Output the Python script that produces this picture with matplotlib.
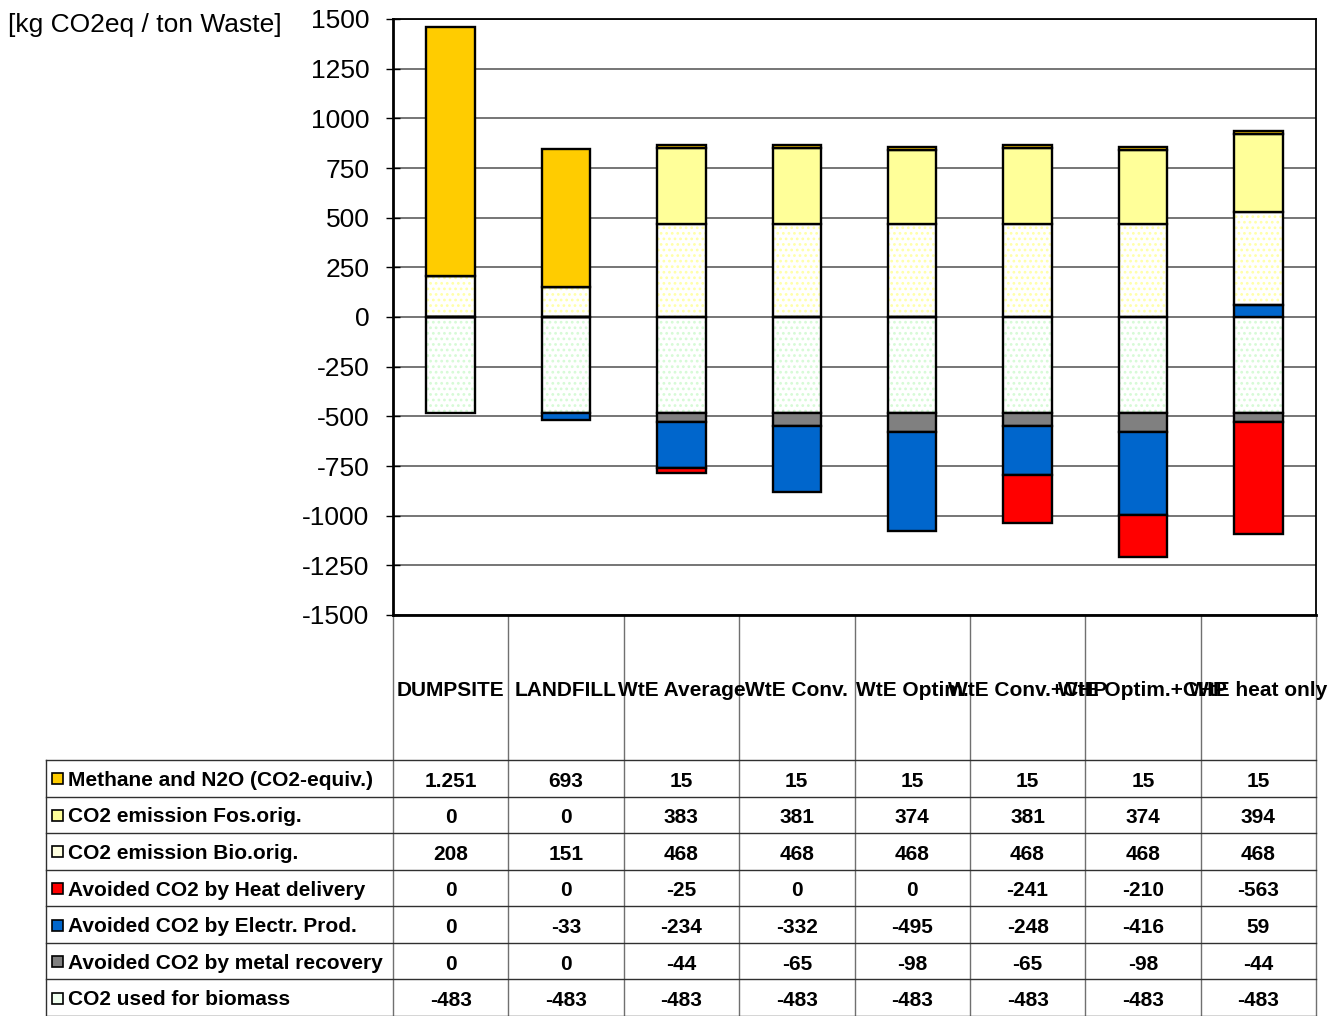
import numpy as np
import matplotlib.pyplot as plt
from matplotlib.patches import Rectangle
from matplotlib.transforms import blended_transform_factory

plt.rcParams['font.family'] = ['Liberation Sans', 'DejaVu Sans']
plt.rcParams['axes.unicode_minus'] = False
plt.rcParams['hatch.linewidth'] = 1.2

categories = ["DUMPSITE", "LANDFILL", "WtE Average", "WtE Conv.", "WtE Optim.",
              "WtE Conv.+CHP", "WtE Optim.+CHP", "WtE heat only"]

methane = [1251, 693, 15, 15, 15, 15, 15, 15]
co2_fossil = [0, 0, 383, 381, 374, 381, 374, 394]
co2_bio = [208, 151, 468, 468, 468, 468, 468, 468]
heat = [0, 0, -25, 0, 0, -241, -210, -563]
electricity = [0, -33, -234, -332, -495, -248, -416, 59]
metal = [0, 0, -44, -65, -98, -65, -98, -44]
biomass_uptake = [-483, -483, -483, -483, -483, -483, -483, -483]

row_labels = ["Methane and N2O (CO2-equiv.)", "CO2 emission Fos.orig.",
              "CO2 emission Bio.orig.", "Avoided CO2 by Heat delivery",
              "Avoided CO2 by Electr. Prod.", "Avoided CO2 by metal recovery",
              "CO2 used for biomass"]
row_values = [methane, co2_fossil, co2_bio, heat, electricity, metal, biomass_uptake]
# face colour, dot colour (None = solid fill), legend swatch colour
row_styles = [("#FFCC00", None, "#FFCC00"),
              ("#FFFF99", None, "#FFFF99"),
              ("white", "#FFFFA8", "#FFFFE0"),
              ("#FF0000", None, "#FF0000"),
              ("#0066CC", None, "#0066CC"),
              ("#808080", None, "#808080"),
              ("white", "#D6FAD6", "#F0FFF0")]

# series are stacked from zero outward in this order
stack_order = [6, 5, 4, 3, 2, 1, 0]

W, H = 1335, 1016
fig = plt.figure(figsize=(W / 100, H / 100), dpi=100)

tax = fig.add_axes([0, 0, 1, 1], zorder=0)
tax.set_xlim(0, W)
tax.set_ylim(H, 0)
tax.axis("off")

left, right, top, bottom = 393, 1316, 19, 615
ax = fig.add_axes([left / W, 1 - bottom / H, (right - left) / W, (bottom - top) / H], zorder=1)

x = np.arange(len(categories))
width = 0.42
pos = np.zeros(len(categories))
neg = np.zeros(len(categories))
for i in stack_order:
    v = np.array(row_values[i], dtype=float)
    face, dots, _ = row_styles[i]
    base = np.where(v >= 0, pos, neg)
    if dots:
        ax.bar(x, v, width, bottom=base, color="white", edgecolor=dots,
               hatch="...", linewidth=0, zorder=2)
        ax.bar(x, v, width, bottom=base, fill=False, edgecolor="black",
               linewidth=1.7, zorder=3)
    else:
        ax.bar(x, v, width, bottom=base, color=face, edgecolor="black",
               linewidth=1.7, zorder=3)
    pos += np.where(v >= 0, v, 0)
    neg += np.where(v < 0, v, 0)

ax.set_xlim(-0.5, len(categories) - 0.5)
ax.set_ylim(-1500, 1500)
ax.set_yticks(np.arange(-1500, 1501, 250))
ax.set_xticks([])
ax.tick_params(axis="y", direction="inout", length=10, width=1, labelsize=19, pad=12)
ax.grid(axis="y", color="#505050", linewidth=1.1, zorder=0)
ax.set_axisbelow(True)
for side in ["top", "right"]:
    ax.spines[side].set_linewidth(1.3)
ax.spines["left"].set_linewidth(2)
ax.spines["bottom"].set_linewidth(2)

tax.text(8, 25, "[kg CO2eq / ton Waste]", fontsize=19, ha="left", va="center")

# data table under the plot, columns tied to the bar positions
bt = blended_transform_factory(ax.transData, tax.transData)
header_bottom = 760
row_h = (H - header_bottom) / 7.0
lc = "#303030"

for k in range(len(categories) + 1):
    tax.plot([k - 0.5, k - 0.5], [bottom, H], transform=bt, color="#707070", lw=1, zorder=1)
tax.plot([46, 46], [header_bottom, H], color=lc, lw=1)
for r in range(8):
    y = header_bottom + r * row_h
    tax.plot([46, right], [y, y], color=lc, lw=1)

for k, name in enumerate(categories):
    tax.text(k, 690, name, transform=bt, fontsize=15, fontweight="bold",
             ha="center", va="center", zorder=2)


def fmt(v):
    return f"{v:,}".replace(",", ".")


for r, (label, vals, style) in enumerate(zip(row_labels, row_values, row_styles)):
    yc = header_bottom + (r + 0.5) * row_h + 2
    tax.add_patch(Rectangle((52, yc - 7), 11, 11, facecolor=style[2],
                            edgecolor="black", lw=1.2))
    tax.text(68, yc, label, fontsize=15, fontweight="bold", ha="left", va="center")
    for k, v in enumerate(vals):
        tax.text(k, yc + 1, fmt(v), transform=bt, fontsize=15, fontweight="bold",
                 ha="center", va="center")

fig.savefig("out.png", dpi=100)
